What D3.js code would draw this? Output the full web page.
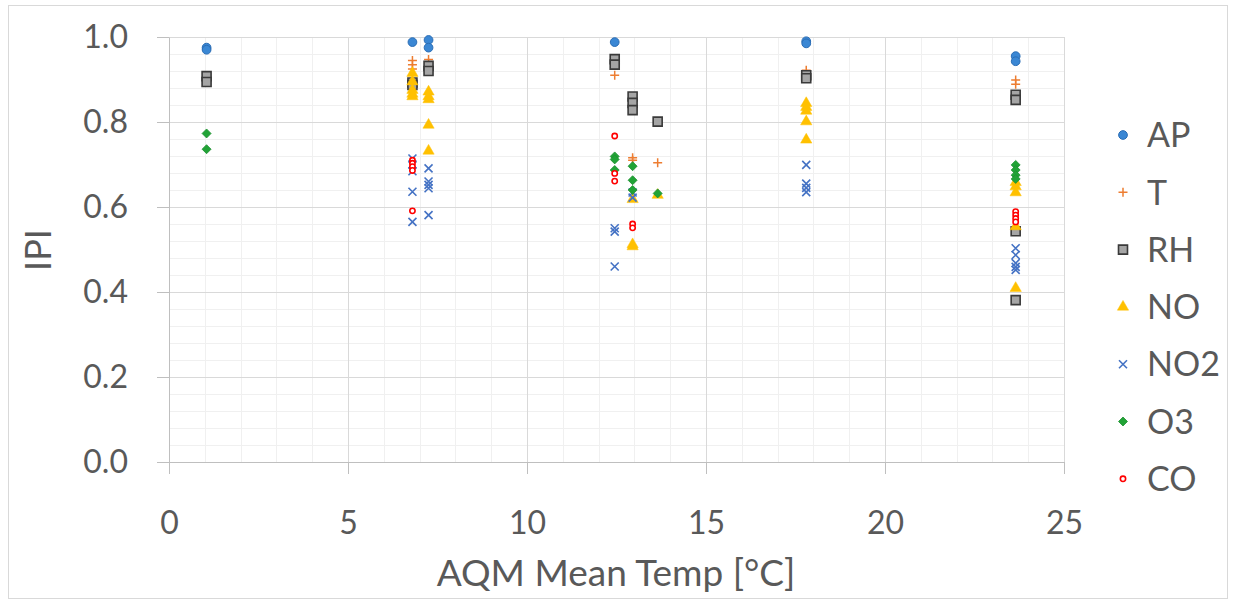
<!DOCTYPE html>
<html>
<head>
<meta charset="utf-8">
<script src="https://cdn.jsdelivr.net/npm/d3@7"></script>
<style>
  html, body { margin: 0; padding: 0; background: #fff; }
  svg text { font-family: Lato, "Open Sans", sans-serif; fill: #595959; }
</style>
</head>
<body>
<svg id="chart" width="1233" height="606"></svg>
<script>
// ---- data (x = AQM mean temp [°C], y = IPI) ----
const seriesNames = ["AP", "T", "RH", "NO", "NO2", "O3", "CO"];
const xTicks = [0, 5, 10, 15, 20, 25];
const yTicks = [0, 0.2, 0.4, 0.6, 0.8, 1.0];

const AP = [[1.05,0.975],[1.05,0.970],[6.8,0.988],[7.25,0.993],[7.25,0.975],[12.45,0.988],
            [17.8,0.990],[17.8,0.985],[23.65,0.955],[23.65,0.943]];
const T = [[6.8,0.945],[6.8,0.935],[6.8,0.925],[7.25,0.947],[12.45,0.910],[12.95,0.716],[12.95,0.710],
           [13.65,0.704],[17.8,0.922],[23.65,0.899],[23.65,0.889]];
const RH = [[1.05,0.908],[1.05,0.894],[6.8,0.893],[6.8,0.887],[7.25,0.932],[7.25,0.920],[12.45,0.948],
            [12.45,0.935],[12.95,0.860],[12.95,0.845],[12.95,0.828],[13.65,0.801],[17.8,0.910],[17.8,0.903],
            [23.65,0.864],[23.65,0.852],[23.65,0.543],[23.65,0.381]];
const NO = [[6.8,0.915],[6.8,0.895],[6.8,0.875],[6.8,0.866],[6.8,0.860],[7.25,0.871],[7.25,0.860],
            [7.25,0.853],[7.25,0.793],[7.25,0.732],[12.95,0.618],[12.95,0.512],[12.95,0.507],[13.65,0.628],
            [17.8,0.844],[17.8,0.835],[17.8,0.826],[17.8,0.801],[17.8,0.758],
            [23.65,0.658],[23.65,0.648],[23.65,0.634],[23.65,0.554],[23.65,0.409]];
const NO2 = [[6.8,0.714],[6.8,0.700],[6.8,0.684],[6.8,0.636],[6.8,0.565],[7.25,0.691],[7.25,0.660],
             [7.25,0.652],[7.25,0.644],[7.25,0.581],[12.45,0.550],[12.45,0.542],[12.45,0.460],
             [12.95,0.634],[12.95,0.622],[17.8,0.699],[17.8,0.655],[17.8,0.645],[17.8,0.635],
             [23.65,0.503],[23.65,0.487],[23.65,0.468],[23.65,0.459],[23.65,0.452]];
const O3 = [[1.05,0.773],[1.05,0.736],[12.45,0.719],[12.45,0.712],[12.45,0.687],[12.95,0.696],
            [12.95,0.663],[12.95,0.640],[13.65,0.632],[23.65,0.699],[23.65,0.687],[23.65,0.675],[23.65,0.666]];
const CO = [[6.8,0.710],[6.8,0.703],[6.8,0.695],[6.8,0.686],[6.8,0.591],[12.45,0.767],[12.45,0.679],
            [12.45,0.661],[12.95,0.560],[12.95,0.551],[23.65,0.589],[23.65,0.581],[23.65,0.573],[23.65,0.565]];

const seriesData = [AP, T, RH, NO, NO2, O3, CO];

// ---- styles ----
const styles = {
  AP:  {path: d3.symbol(d3.symbolCircle, 60)(), fill: "#3a87d4", stroke: "#2a6db5", sw: 1},
  T:   {path: "M-4.5,0H4.5M0,-4.5V4.5", fill: "none", stroke: "#ed7d31", sw: 1.5},
  RH:  {path: "M-4.5,-4.5H4.5V4.5H-4.5Z", fill: "#a5a5a5", stroke: "#3a3a3a", sw: 1.6},
  NO:  {path: d3.symbol(d3.symbolTriangle, 55)(), fill: "#ffc000", stroke: "#ffc000", sw: 0.5},
  NO2: {path: "M-4,-4L4,4M-4,4L4,-4", fill: "none", stroke: "#4472c4", sw: 1.6},
  O3:  {path: "M0,-4.5L4.5,0L0,4.5L-4.5,0Z", fill: "#21a336", stroke: "#1e8f31", sw: 0.8},
  CO:  {path: d3.symbol(d3.symbolCircle, 22)(), fill: "#ffffff", stroke: "#ff0000", sw: 1.6}
};

const svg = d3.select("#chart");
const x = d3.scaleLinear().domain([0, 25]).range([169, 1064]);
const y = d3.scaleLinear().domain([0, 1]).range([462, 37]);

// outer chart border
svg.append("rect").attr("x", 8.5).attr("y", 5.5).attr("width", 1219).attr("height", 593)
  .attr("fill", "none").attr("stroke", "#d9d9d9");

// grid
const grid = svg.append("g");
const minorX = d3.range(0, 26, 1).filter(v => v % 5 !== 0);
const minorY = d3.range(0, 26, 1).filter(i => i % 5 !== 0).map(i => i * 0.04);
grid.selectAll(".mx").data(minorX).join("line")
  .attr("x1", d => Math.round(x(d)) + 0.5).attr("x2", d => Math.round(x(d)) + 0.5)
  .attr("y1", y(1)).attr("y2", y(0)).attr("stroke", "#f0f0f0").attr("stroke-width", 1);
grid.selectAll(".my").data(minorY).join("line")
  .attr("y1", d => Math.round(y(d)) + 0.5).attr("y2", d => Math.round(y(d)) + 0.5)
  .attr("x1", x(0)).attr("x2", x(25)).attr("stroke", "#f0f0f0").attr("stroke-width", 1);
grid.selectAll(".Mx").data(xTicks.filter(d => d > 0)).join("line")
  .attr("x1", d => Math.round(x(d)) + 0.5).attr("x2", d => Math.round(x(d)) + 0.5)
  .attr("y1", y(1)).attr("y2", y(0)).attr("stroke", "#d9d9d9").attr("stroke-width", 1);
grid.selectAll(".My").data(yTicks.filter(d => d > 0)).join("line")
  .attr("y1", d => Math.round(y(d)) + 0.5).attr("y2", d => Math.round(y(d)) + 0.5)
  .attr("x1", x(0)).attr("x2", x(25)).attr("stroke", "#d9d9d9").attr("stroke-width", 1);

// axes
const yAxis = svg.append("g").attr("transform", `translate(${x(0)},0)`)
  .call(d3.axisLeft(y).tickValues(yTicks).tickFormat(d3.format(".1f")).tickSize(12).tickPadding(29).tickSizeOuter(0));
const xAxis = svg.append("g").attr("transform", `translate(0,${y(0)})`)
  .call(d3.axisBottom(x).tickValues(xTicks).tickFormat(d3.format("d")).tickSize(12).tickSizeOuter(0));
[yAxis, xAxis].forEach(a => {
  a.select(".domain").attr("stroke", "#bfbfbf");
  a.selectAll(".tick line").attr("stroke", "#bfbfbf");
  a.selectAll("text").style("font-size", "32px").attr("fill", "#595959");
});
xAxis.selectAll("text").attr("dy", null).attr("y", 72);

// axis titles
svg.append("text").attr("x", 616).attr("y", 586).attr("text-anchor", "middle")
  .style("font-size", "37px").text("AQM Mean Temp [°C]");
svg.append("text").attr("transform", "translate(51,250) rotate(-90)").attr("text-anchor", "middle")
  .style("font-size", "36px").text("IPI");

// points
const pts = svg.append("g");
seriesNames.forEach((name, i) => {
  const s = styles[name];
  pts.append("g").selectAll("path").data(seriesData[i]).join("path")
    .attr("transform", d => `translate(${x(d[0])},${y(d[1])})`)
    .attr("d", s.path).attr("fill", s.fill).attr("stroke", s.stroke).attr("stroke-width", s.sw);
});

// legend
const leg = svg.append("g");
seriesNames.forEach((name, i) => {
  const s = styles[name];
  const cy = 135 + i * 57.3;
  leg.append("path").attr("transform", `translate(1123,${cy})`).attr("d", s.path)
    .attr("fill", s.fill).attr("stroke", s.stroke).attr("stroke-width", s.sw);
  leg.append("text").attr("x", 1147).attr("y", cy).attr("dy", "0.36em")
    .style("font-size", "34px").text(name);
});
</script>
</body>
</html>
